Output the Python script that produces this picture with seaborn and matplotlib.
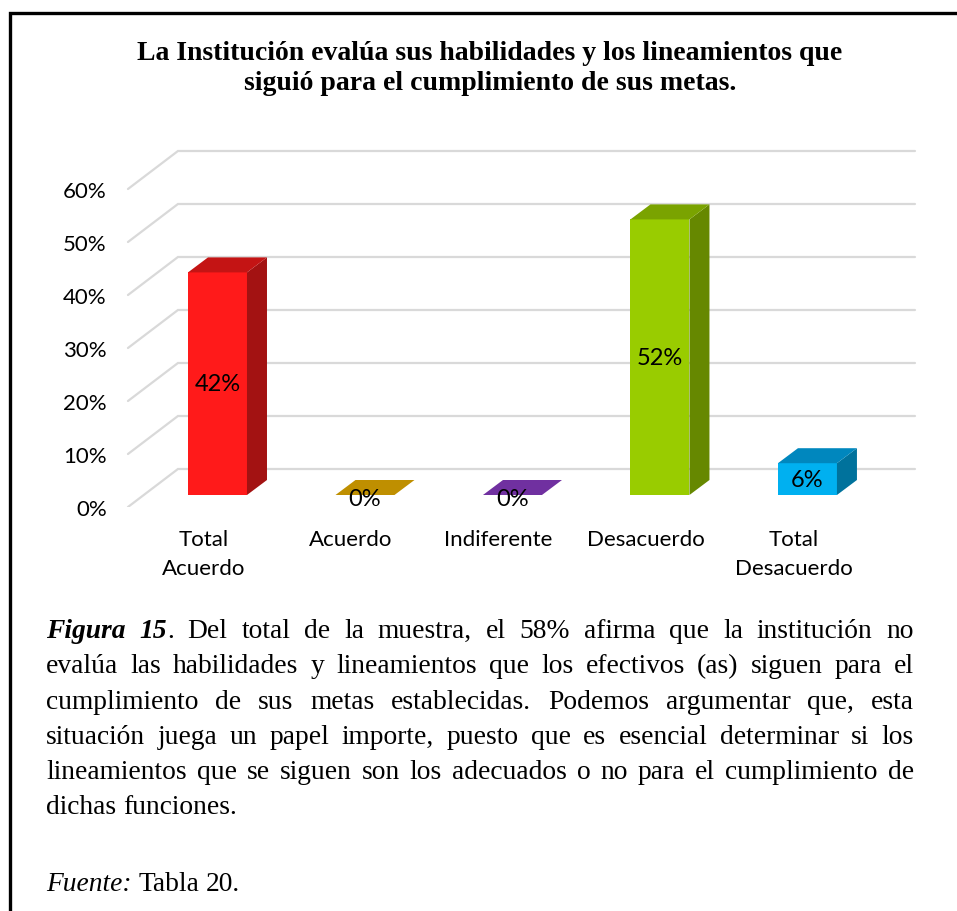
import re
import matplotlib
matplotlib.use("Agg")
import matplotlib.pyplot as plt
from matplotlib.patches import Polygon, Rectangle
import seaborn as sns
import numpy as np

# ===============================
# 1. DATOS
# ===============================

categorias = ["Total Acuerdo", "Acuerdo", "Indiferente", "Desacuerdo", "Total Desacuerdo"]
etiquetas_x = ["Total\nAcuerdo", "Acuerdo", "Indiferente", "Desacuerdo", "Total\nDesacuerdo"]
valores = [42, 0, 0, 52, 6]
ticks_y = [0, 10, 20, 30, 40, 50, 60]

titulo = [
    "La Institución evalúa sus habilidades y los lineamientos que",
    "siguió para el cumplimiento de sus metas.",
]

# *texto* = negrita cursiva, _texto_ = cursiva
parrafo = [
    "*Figura* *15*. Del total de la muestra, el 58% afirma que la institución no",
    "evalúa las habilidades y lineamientos que los efectivos (as) siguen para el",
    "cumplimiento de sus metas establecidas. Podemos argumentar que, esta",
    "situación juega un papel importe, puesto que es esencial determinar si los",
    "lineamientos que se siguen son los adecuados o no para el cumplimiento de",
    "dichas funciones.",
]
fuente = "_Fuente:_ Tabla 20."

# colores (frente, lado, tapa)
color_frente = ["#FF1A1A", "#BF8F00", "#7030A0", "#99CC00", "#00B0F0"]
color_lado = ["#A31212", "#8F6B00", "#542478", "#668800", "#00729C"]
color_tapa = ["#C41414", "#BF8F00", "#7030A0", "#7AA300", "#0087BE"]

# ===============================
# 2. FIGURA
# ===============================

W, H = 957, 912
sns.set_style("white")
plt.rcParams["font.family"] = ["Lato", "DejaVu Sans"]
plt.rcParams["text.color"] = "black"
plt.rcParams["xtick.color"] = "black"
plt.rcParams["ytick.color"] = "black"

fig = plt.figure(figsize=(W / 100, H / 100), dpi=100)
ax = fig.add_axes([120 / W, (H - 508) / H, 805 / W, 368 / H])

sns.barplot(x=categorias, y=valores, hue=categorias, palette=color_frente,
            width=0.4, saturation=1, legend=False, ax=ax, zorder=3)

ax.set_xlim(-0.661, 4.797)
ax.set_ylim(-2.264, 67.17)

# efecto 3D: pared de fondo
frente_y = -2.264
pared_dx, pared_dy = 0.339, 7.17
for v in ticks_y:
    yf = v + frente_y
    ax.plot([-0.607, -0.607 + pared_dx, 4.729], [yf, yf + pared_dy, yf + pared_dy],
            color="#D9D9D9", lw=1.6, zorder=1, solid_joinstyle="miter")

# efecto 3D: barras
prof_dx, prof_dy = 0.1356, 2.83
tam_graf = 16
barras = sorted(ax.patches, key=lambda p: p.get_x())
for i, b in enumerate(barras):
    x0, w, h = b.get_x(), b.get_width(), b.get_height()
    b.set_edgecolor("none")
    if h > 0:
        ax.add_patch(Polygon([(x0 + w, 0), (x0 + w + prof_dx, prof_dy),
                              (x0 + w + prof_dx, h + prof_dy), (x0 + w, h)],
                             closed=True, facecolor=color_lado[i], edgecolor="none", zorder=3))
    ax.add_patch(Polygon([(x0, h), (x0 + w, h), (x0 + w + prof_dx, h + prof_dy),
                          (x0 + prof_dx, h + prof_dy)],
                         closed=True, facecolor=color_tapa[i], edgecolor="none", zorder=3))
    ax.text(x0 + w / 2, h / 2 if h > 0 else -0.6, f"{valores[i]}%",
            ha="center", va="center", fontsize=17, color="black", zorder=5)

ax.set_yticks([v + frente_y for v in ticks_y], labels=[f"{v}%" for v in ticks_y])
ax.set_xticks(np.arange(len(categorias)) - 0.095, labels=etiquetas_x)
ax.tick_params(axis="y", length=0, pad=9.5, labelsize=tam_graf)
ax.tick_params(axis="x", length=0, pad=16, labelsize=tam_graf)
for lab in ax.get_xticklabels():
    lab.set_linespacing(1.52)
ax.set_xlabel("")
ax.set_ylabel("")
sns.despine(ax=ax, left=True, bottom=True)

# ===============================
# 3. TITULO Y TEXTO
# ===============================

serif = "Liberation Serif"
for k, linea in enumerate(titulo):
    fig.text(490 / W, 1 - (60 + 30 * k) / H, linea, ha="center", va="baseline",
             family=serif, weight="bold", fontsize=20)

renderer = fig.canvas.get_renderer()
tam = 19.8


def segmentos(palabra):
    out = []
    for s in re.split(r"(\*[^*]+\*|_[^_]+_)", palabra):
        if not s:
            continue
        if s.startswith("*"):
            out.append((s[1:-1], "italic", "bold"))
        elif s.startswith("_"):
            out.append((s[1:-1], "italic", "normal"))
        else:
            out.append((s, "normal", "normal"))
    return out


def dibujar_palabra(x, y, palabra):
    for txt, estilo, peso in segmentos(palabra):
        t = fig.text(x / W, 1 - y / H, txt, family=serif, style=estilo, weight=peso,
                     fontsize=tam, va="baseline", ha="left")
        x += t.get_window_extent(renderer).width
    return x


def ancho(palabra):
    total = 0
    for txt, estilo, peso in segmentos(palabra):
        t = fig.text(0, 0, txt, family=serif, style=estilo, weight=peso, fontsize=tam)
        total += t.get_window_extent(renderer).width
        t.remove()
    return total


izq, der = 46, 914
esp_t = fig.text(0, 0, "a a", family=serif, fontsize=tam)
esp_n = fig.text(0, 0, "aa", family=serif, fontsize=tam)
espacio = esp_t.get_window_extent(renderer).width - esp_n.get_window_extent(renderer).width
esp_t.remove()
esp_n.remove()

for k, linea in enumerate(parrafo):
    y = 638 + 35.3 * k
    palabras = linea.split(" ")
    if k < len(parrafo) - 1:
        anchos = [ancho(p) for p in palabras]
        hueco = (der - izq - sum(anchos)) / (len(palabras) - 1)
    else:
        hueco = espacio
    x = izq
    for p in palabras:
        x = dibujar_palabra(x, y, p) + hueco

x = izq
for p in fuente.split(" "):
    x = dibujar_palabra(x, 891, p) + espacio

# marco
fig.add_artist(Rectangle((10 / W, -0.1), 1.2, 1.1 - 14 / H, transform=fig.transFigure,
                         fill=False, edgecolor="black", lw=2.4))

fig.savefig("out.png", dpi=100)
